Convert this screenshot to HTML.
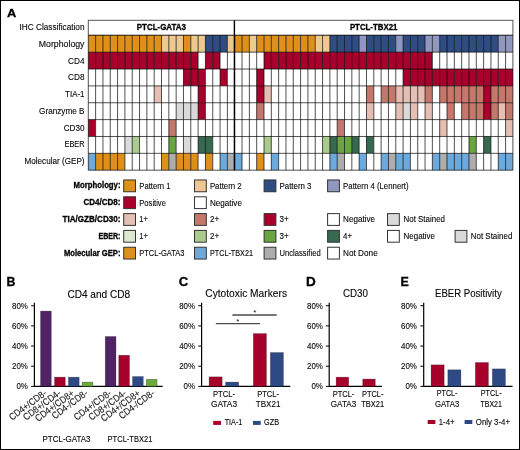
<!DOCTYPE html>
<html><head><meta charset="utf-8"><title>Figure</title>
<style>
html,body{margin:0;padding:0;background:#fff;}
body{width:520px;height:450px;overflow:hidden;}
svg{display:block;will-change:transform;font-family:"Liberation Sans", sans-serif;}
</style></head>
<body>
<svg width="520" height="450" viewBox="0 0 520 450">
<rect x="0" y="0" width="520" height="450" fill="#fff"/>
<text x="6.90" y="17.40" font-size="11.8" font-weight="bold" stroke="#000" stroke-width="0.3" textLength="9.30" lengthAdjust="spacingAndGlyphs" fill="#000">A</text>
<text x="84.50" y="30.20" font-size="9.36" stroke="#1a1a1a" stroke-width="0.12" text-anchor="end" textLength="65.00" lengthAdjust="spacingAndGlyphs">IHC Classification</text>
<text x="84.50" y="46.75" font-size="9.36" stroke="#1a1a1a" stroke-width="0.12" text-anchor="end" textLength="45.70" lengthAdjust="spacingAndGlyphs">Morphology</text>
<text x="84.50" y="63.51" font-size="9.36" stroke="#1a1a1a" stroke-width="0.12" text-anchor="end" textLength="16.40" lengthAdjust="spacingAndGlyphs">CD4</text>
<text x="84.50" y="80.27" font-size="9.36" stroke="#1a1a1a" stroke-width="0.12" text-anchor="end" textLength="16.40" lengthAdjust="spacingAndGlyphs">CD8</text>
<text x="84.50" y="97.03" font-size="9.36" stroke="#1a1a1a" stroke-width="0.12" text-anchor="end" textLength="19.40" lengthAdjust="spacingAndGlyphs">TIA-1</text>
<text x="84.50" y="113.79" font-size="9.36" stroke="#1a1a1a" stroke-width="0.12" text-anchor="end" textLength="45.40" lengthAdjust="spacingAndGlyphs">Granzyme B</text>
<text x="84.50" y="130.55" font-size="9.36" stroke="#1a1a1a" stroke-width="0.12" text-anchor="end" textLength="20.80" lengthAdjust="spacingAndGlyphs">CD30</text>
<text x="84.50" y="147.31" font-size="9.36" stroke="#1a1a1a" stroke-width="0.12" text-anchor="end" textLength="20.00" lengthAdjust="spacingAndGlyphs">EBER</text>
<text x="84.50" y="164.07" font-size="9.36" stroke="#1a1a1a" stroke-width="0.12" text-anchor="end" textLength="60.00" lengthAdjust="spacingAndGlyphs">Molecular (GEP)</text>
<rect x="88.30" y="20.30" width="424.60" height="15.00" fill="#fff" stroke="#555" stroke-width="1"/>
<text x="161.35" y="30.20" font-size="8.6" font-weight="bold" stroke="#000" stroke-width="0.3" text-anchor="middle" textLength="49.20" lengthAdjust="spacingAndGlyphs" fill="#000">PTCL-GATA3</text>
<text x="373.65" y="30.20" font-size="8.6" font-weight="bold" stroke="#000" stroke-width="0.3" text-anchor="middle" textLength="47.50" lengthAdjust="spacingAndGlyphs" fill="#000">PTCL-TBX21</text>
<rect x="88.30" y="35.30" width="7.32" height="16.86" fill="#DF901B"/>
<rect x="95.62" y="35.30" width="7.32" height="16.86" fill="#DF901B"/>
<rect x="102.94" y="35.30" width="7.32" height="16.86" fill="#DF901B"/>
<rect x="110.26" y="35.30" width="7.32" height="16.86" fill="#DF901B"/>
<rect x="117.58" y="35.30" width="7.32" height="16.86" fill="#DF901B"/>
<rect x="124.90" y="35.30" width="7.32" height="16.86" fill="#DF901B"/>
<rect x="132.22" y="35.30" width="7.32" height="16.86" fill="#DF901B"/>
<rect x="139.54" y="35.30" width="7.32" height="16.86" fill="#DF901B"/>
<rect x="146.87" y="35.30" width="7.32" height="16.86" fill="#DF901B"/>
<rect x="154.19" y="35.30" width="7.32" height="16.86" fill="#DF901B"/>
<rect x="161.51" y="35.30" width="7.32" height="16.86" fill="#EDC88F"/>
<rect x="168.83" y="35.30" width="7.32" height="16.86" fill="#EDC88F"/>
<rect x="176.15" y="35.30" width="7.32" height="16.86" fill="#EDC88F"/>
<rect x="183.47" y="35.30" width="7.32" height="16.86" fill="#DF901B"/>
<rect x="190.79" y="35.30" width="7.32" height="16.86" fill="#EDC88F"/>
<rect x="198.11" y="35.30" width="7.32" height="16.86" fill="#EDC88F"/>
<rect x="205.43" y="35.30" width="7.32" height="16.86" fill="#2F4D82"/>
<rect x="212.75" y="35.30" width="7.32" height="16.86" fill="#2F4D82"/>
<rect x="220.07" y="35.30" width="7.32" height="16.86" fill="#2F4D82"/>
<rect x="227.39" y="35.30" width="7.32" height="16.86" fill="#EDC88F"/>
<rect x="234.71" y="35.30" width="7.32" height="16.86" fill="#DF901B"/>
<rect x="242.03" y="35.30" width="7.32" height="16.86" fill="#DF901B"/>
<rect x="249.36" y="35.30" width="7.32" height="16.86" fill="#EDC88F"/>
<rect x="256.68" y="35.30" width="7.32" height="16.86" fill="#DF901B"/>
<rect x="264.00" y="35.30" width="7.32" height="16.86" fill="#DF901B"/>
<rect x="271.32" y="35.30" width="7.32" height="16.86" fill="#DF901B"/>
<rect x="278.64" y="35.30" width="7.32" height="16.86" fill="#DF901B"/>
<rect x="285.96" y="35.30" width="7.32" height="16.86" fill="#DF901B"/>
<rect x="293.28" y="35.30" width="7.32" height="16.86" fill="#DF901B"/>
<rect x="300.60" y="35.30" width="7.32" height="16.86" fill="#DF901B"/>
<rect x="307.92" y="35.30" width="7.32" height="16.86" fill="#DF901B"/>
<rect x="315.24" y="35.30" width="7.32" height="16.86" fill="#EDC88F"/>
<rect x="322.56" y="35.30" width="7.32" height="16.86" fill="#EDC88F"/>
<rect x="329.88" y="35.30" width="7.32" height="16.86" fill="#2F4D82"/>
<rect x="337.20" y="35.30" width="7.32" height="16.86" fill="#2F4D82"/>
<rect x="344.52" y="35.30" width="7.32" height="16.86" fill="#2F4D82"/>
<rect x="351.84" y="35.30" width="7.32" height="16.86" fill="#2F4D82"/>
<rect x="359.17" y="35.30" width="7.32" height="16.86" fill="#9198C0"/>
<rect x="366.49" y="35.30" width="7.32" height="16.86" fill="#2F4D82"/>
<rect x="373.81" y="35.30" width="7.32" height="16.86" fill="#2F4D82"/>
<rect x="381.13" y="35.30" width="7.32" height="16.86" fill="#2F4D82"/>
<rect x="388.45" y="35.30" width="7.32" height="16.86" fill="#2F4D82"/>
<rect x="395.77" y="35.30" width="7.32" height="16.86" fill="#9198C0"/>
<rect x="403.09" y="35.30" width="7.32" height="16.86" fill="#2F4D82"/>
<rect x="410.41" y="35.30" width="7.32" height="16.86" fill="#2F4D82"/>
<rect x="417.73" y="35.30" width="7.32" height="16.86" fill="#2F4D82"/>
<rect x="425.05" y="35.30" width="7.32" height="16.86" fill="#9198C0"/>
<rect x="432.37" y="35.30" width="7.32" height="16.86" fill="#9198C0"/>
<rect x="439.69" y="35.30" width="7.32" height="16.86" fill="#2F4D82"/>
<rect x="447.01" y="35.30" width="7.32" height="16.86" fill="#2F4D82"/>
<rect x="454.33" y="35.30" width="7.32" height="16.86" fill="#2F4D82"/>
<rect x="461.66" y="35.30" width="7.32" height="16.86" fill="#2F4D82"/>
<rect x="468.98" y="35.30" width="7.32" height="16.86" fill="#2F4D82"/>
<rect x="476.30" y="35.30" width="7.32" height="16.86" fill="#2F4D82"/>
<rect x="483.62" y="35.30" width="7.32" height="16.86" fill="#2F4D82"/>
<rect x="490.94" y="35.30" width="7.32" height="16.86" fill="#2F4D82"/>
<rect x="498.26" y="35.30" width="7.32" height="16.86" fill="#9198C0"/>
<rect x="505.58" y="35.30" width="7.32" height="16.86" fill="#9198C0"/>
<rect x="88.30" y="52.16" width="7.32" height="16.86" fill="#A8002C"/>
<rect x="95.62" y="52.16" width="7.32" height="16.86" fill="#A8002C"/>
<rect x="102.94" y="52.16" width="7.32" height="16.86" fill="#A8002C"/>
<rect x="110.26" y="52.16" width="7.32" height="16.86" fill="#A8002C"/>
<rect x="117.58" y="52.16" width="7.32" height="16.86" fill="#A8002C"/>
<rect x="124.90" y="52.16" width="7.32" height="16.86" fill="#A8002C"/>
<rect x="132.22" y="52.16" width="7.32" height="16.86" fill="#A8002C"/>
<rect x="139.54" y="52.16" width="7.32" height="16.86" fill="#A8002C"/>
<rect x="146.87" y="52.16" width="7.32" height="16.86" fill="#A8002C"/>
<rect x="154.19" y="52.16" width="7.32" height="16.86" fill="#A8002C"/>
<rect x="161.51" y="52.16" width="7.32" height="16.86" fill="#A8002C"/>
<rect x="168.83" y="52.16" width="7.32" height="16.86" fill="#A8002C"/>
<rect x="176.15" y="52.16" width="7.32" height="16.86" fill="#A8002C"/>
<rect x="183.47" y="52.16" width="7.32" height="16.86" fill="#A8002C"/>
<rect x="190.79" y="52.16" width="7.32" height="16.86" fill="#A8002C"/>
<rect x="198.11" y="52.16" width="7.32" height="16.86" fill="#FFFFFF"/>
<rect x="205.43" y="52.16" width="7.32" height="16.86" fill="#A8002C"/>
<rect x="212.75" y="52.16" width="7.32" height="16.86" fill="#A8002C"/>
<rect x="220.07" y="52.16" width="7.32" height="16.86" fill="#FFFFFF"/>
<rect x="227.39" y="52.16" width="7.32" height="16.86" fill="#FFFFFF"/>
<rect x="234.71" y="52.16" width="7.32" height="16.86" fill="#FFFFFF"/>
<rect x="242.03" y="52.16" width="7.32" height="16.86" fill="#FFFFFF"/>
<rect x="249.36" y="52.16" width="7.32" height="16.86" fill="#FFFFFF"/>
<rect x="256.68" y="52.16" width="7.32" height="16.86" fill="#FFFFFF"/>
<rect x="264.00" y="52.16" width="7.32" height="16.86" fill="#A8002C"/>
<rect x="271.32" y="52.16" width="7.32" height="16.86" fill="#A8002C"/>
<rect x="278.64" y="52.16" width="7.32" height="16.86" fill="#A8002C"/>
<rect x="285.96" y="52.16" width="7.32" height="16.86" fill="#A8002C"/>
<rect x="293.28" y="52.16" width="7.32" height="16.86" fill="#A8002C"/>
<rect x="300.60" y="52.16" width="7.32" height="16.86" fill="#A8002C"/>
<rect x="307.92" y="52.16" width="7.32" height="16.86" fill="#A8002C"/>
<rect x="315.24" y="52.16" width="7.32" height="16.86" fill="#A8002C"/>
<rect x="322.56" y="52.16" width="7.32" height="16.86" fill="#A8002C"/>
<rect x="329.88" y="52.16" width="7.32" height="16.86" fill="#A8002C"/>
<rect x="337.20" y="52.16" width="7.32" height="16.86" fill="#A8002C"/>
<rect x="344.52" y="52.16" width="7.32" height="16.86" fill="#A8002C"/>
<rect x="351.84" y="52.16" width="7.32" height="16.86" fill="#A8002C"/>
<rect x="359.17" y="52.16" width="7.32" height="16.86" fill="#A8002C"/>
<rect x="366.49" y="52.16" width="7.32" height="16.86" fill="#A8002C"/>
<rect x="373.81" y="52.16" width="7.32" height="16.86" fill="#A8002C"/>
<rect x="381.13" y="52.16" width="7.32" height="16.86" fill="#A8002C"/>
<rect x="388.45" y="52.16" width="7.32" height="16.86" fill="#A8002C"/>
<rect x="395.77" y="52.16" width="7.32" height="16.86" fill="#A8002C"/>
<rect x="403.09" y="52.16" width="7.32" height="16.86" fill="#A8002C"/>
<rect x="410.41" y="52.16" width="7.32" height="16.86" fill="#A8002C"/>
<rect x="417.73" y="52.16" width="7.32" height="16.86" fill="#A8002C"/>
<rect x="425.05" y="52.16" width="7.32" height="16.86" fill="#A8002C"/>
<rect x="432.37" y="52.16" width="7.32" height="16.86" fill="#FFFFFF"/>
<rect x="439.69" y="52.16" width="7.32" height="16.86" fill="#FFFFFF"/>
<rect x="447.01" y="52.16" width="7.32" height="16.86" fill="#FFFFFF"/>
<rect x="454.33" y="52.16" width="7.32" height="16.86" fill="#FFFFFF"/>
<rect x="461.66" y="52.16" width="7.32" height="16.86" fill="#FFFFFF"/>
<rect x="468.98" y="52.16" width="7.32" height="16.86" fill="#FFFFFF"/>
<rect x="476.30" y="52.16" width="7.32" height="16.86" fill="#FFFFFF"/>
<rect x="483.62" y="52.16" width="7.32" height="16.86" fill="#FFFFFF"/>
<rect x="490.94" y="52.16" width="7.32" height="16.86" fill="#FFFFFF"/>
<rect x="498.26" y="52.16" width="7.32" height="16.86" fill="#FFFFFF"/>
<rect x="505.58" y="52.16" width="7.32" height="16.86" fill="#FFFFFF"/>
<rect x="88.30" y="69.02" width="7.32" height="16.86" fill="#FFFFFF"/>
<rect x="95.62" y="69.02" width="7.32" height="16.86" fill="#FFFFFF"/>
<rect x="102.94" y="69.02" width="7.32" height="16.86" fill="#FFFFFF"/>
<rect x="110.26" y="69.02" width="7.32" height="16.86" fill="#FFFFFF"/>
<rect x="117.58" y="69.02" width="7.32" height="16.86" fill="#FFFFFF"/>
<rect x="124.90" y="69.02" width="7.32" height="16.86" fill="#FFFFFF"/>
<rect x="132.22" y="69.02" width="7.32" height="16.86" fill="#FFFFFF"/>
<rect x="139.54" y="69.02" width="7.32" height="16.86" fill="#FFFFFF"/>
<rect x="146.87" y="69.02" width="7.32" height="16.86" fill="#FFFFFF"/>
<rect x="154.19" y="69.02" width="7.32" height="16.86" fill="#FFFFFF"/>
<rect x="161.51" y="69.02" width="7.32" height="16.86" fill="#FFFFFF"/>
<rect x="168.83" y="69.02" width="7.32" height="16.86" fill="#FFFFFF"/>
<rect x="176.15" y="69.02" width="7.32" height="16.86" fill="#FFFFFF"/>
<rect x="183.47" y="69.02" width="7.32" height="16.86" fill="#A8002C"/>
<rect x="190.79" y="69.02" width="7.32" height="16.86" fill="#A8002C"/>
<rect x="198.11" y="69.02" width="7.32" height="16.86" fill="#A8002C"/>
<rect x="205.43" y="69.02" width="7.32" height="16.86" fill="#FFFFFF"/>
<rect x="212.75" y="69.02" width="7.32" height="16.86" fill="#FFFFFF"/>
<rect x="220.07" y="69.02" width="7.32" height="16.86" fill="#A8002C"/>
<rect x="227.39" y="69.02" width="7.32" height="16.86" fill="#FFFFFF"/>
<rect x="234.71" y="69.02" width="7.32" height="16.86" fill="#FFFFFF"/>
<rect x="242.03" y="69.02" width="7.32" height="16.86" fill="#FFFFFF"/>
<rect x="249.36" y="69.02" width="7.32" height="16.86" fill="#FFFFFF"/>
<rect x="256.68" y="69.02" width="7.32" height="16.86" fill="#A8002C"/>
<rect x="264.00" y="69.02" width="7.32" height="16.86" fill="#FFFFFF"/>
<rect x="271.32" y="69.02" width="7.32" height="16.86" fill="#FFFFFF"/>
<rect x="278.64" y="69.02" width="7.32" height="16.86" fill="#FFFFFF"/>
<rect x="285.96" y="69.02" width="7.32" height="16.86" fill="#FFFFFF"/>
<rect x="293.28" y="69.02" width="7.32" height="16.86" fill="#FFFFFF"/>
<rect x="300.60" y="69.02" width="7.32" height="16.86" fill="#FFFFFF"/>
<rect x="307.92" y="69.02" width="7.32" height="16.86" fill="#FFFFFF"/>
<rect x="315.24" y="69.02" width="7.32" height="16.86" fill="#FFFFFF"/>
<rect x="322.56" y="69.02" width="7.32" height="16.86" fill="#FFFFFF"/>
<rect x="329.88" y="69.02" width="7.32" height="16.86" fill="#FFFFFF"/>
<rect x="337.20" y="69.02" width="7.32" height="16.86" fill="#FFFFFF"/>
<rect x="344.52" y="69.02" width="7.32" height="16.86" fill="#FFFFFF"/>
<rect x="351.84" y="69.02" width="7.32" height="16.86" fill="#FFFFFF"/>
<rect x="359.17" y="69.02" width="7.32" height="16.86" fill="#FFFFFF"/>
<rect x="366.49" y="69.02" width="7.32" height="16.86" fill="#FFFFFF"/>
<rect x="373.81" y="69.02" width="7.32" height="16.86" fill="#FFFFFF"/>
<rect x="381.13" y="69.02" width="7.32" height="16.86" fill="#FFFFFF"/>
<rect x="388.45" y="69.02" width="7.32" height="16.86" fill="#FFFFFF"/>
<rect x="395.77" y="69.02" width="7.32" height="16.86" fill="#FFFFFF"/>
<rect x="403.09" y="69.02" width="7.32" height="16.86" fill="#A8002C"/>
<rect x="410.41" y="69.02" width="7.32" height="16.86" fill="#A8002C"/>
<rect x="417.73" y="69.02" width="7.32" height="16.86" fill="#A8002C"/>
<rect x="425.05" y="69.02" width="7.32" height="16.86" fill="#A8002C"/>
<rect x="432.37" y="69.02" width="7.32" height="16.86" fill="#A8002C"/>
<rect x="439.69" y="69.02" width="7.32" height="16.86" fill="#A8002C"/>
<rect x="447.01" y="69.02" width="7.32" height="16.86" fill="#A8002C"/>
<rect x="454.33" y="69.02" width="7.32" height="16.86" fill="#A8002C"/>
<rect x="461.66" y="69.02" width="7.32" height="16.86" fill="#A8002C"/>
<rect x="468.98" y="69.02" width="7.32" height="16.86" fill="#A8002C"/>
<rect x="476.30" y="69.02" width="7.32" height="16.86" fill="#A8002C"/>
<rect x="483.62" y="69.02" width="7.32" height="16.86" fill="#A8002C"/>
<rect x="490.94" y="69.02" width="7.32" height="16.86" fill="#A8002C"/>
<rect x="498.26" y="69.02" width="7.32" height="16.86" fill="#A8002C"/>
<rect x="505.58" y="69.02" width="7.32" height="16.86" fill="#A8002C"/>
<rect x="88.30" y="85.89" width="7.32" height="16.86" fill="#FFFFFF"/>
<rect x="95.62" y="85.89" width="7.32" height="16.86" fill="#FFFFFF"/>
<rect x="102.94" y="85.89" width="7.32" height="16.86" fill="#FFFFFF"/>
<rect x="110.26" y="85.89" width="7.32" height="16.86" fill="#FFFFFF"/>
<rect x="117.58" y="85.89" width="7.32" height="16.86" fill="#FFFFFF"/>
<rect x="124.90" y="85.89" width="7.32" height="16.86" fill="#FFFFFF"/>
<rect x="132.22" y="85.89" width="7.32" height="16.86" fill="#FFFFFF"/>
<rect x="139.54" y="85.89" width="7.32" height="16.86" fill="#FFFFFF"/>
<rect x="146.87" y="85.89" width="7.32" height="16.86" fill="#FFFFFF"/>
<rect x="154.19" y="85.89" width="7.32" height="16.86" fill="#E5BFB3"/>
<rect x="161.51" y="85.89" width="7.32" height="16.86" fill="#FFFFFF"/>
<rect x="168.83" y="85.89" width="7.32" height="16.86" fill="#FFFFFF"/>
<rect x="176.15" y="85.89" width="7.32" height="16.86" fill="#FFFFFF"/>
<rect x="183.47" y="85.89" width="7.32" height="16.86" fill="#FFFFFF"/>
<rect x="190.79" y="85.89" width="7.32" height="16.86" fill="#FFFFFF"/>
<rect x="198.11" y="85.89" width="7.32" height="16.86" fill="#A8002C"/>
<rect x="205.43" y="85.89" width="7.32" height="16.86" fill="#FFFFFF"/>
<rect x="212.75" y="85.89" width="7.32" height="16.86" fill="#FFFFFF"/>
<rect x="220.07" y="85.89" width="7.32" height="16.86" fill="#FFFFFF"/>
<rect x="227.39" y="85.89" width="7.32" height="16.86" fill="#FFFFFF"/>
<rect x="234.71" y="85.89" width="7.32" height="16.86" fill="#FFFFFF"/>
<rect x="242.03" y="85.89" width="7.32" height="16.86" fill="#FFFFFF"/>
<rect x="249.36" y="85.89" width="7.32" height="16.86" fill="#FFFFFF"/>
<rect x="256.68" y="85.89" width="7.32" height="16.86" fill="#A8002C"/>
<rect x="264.00" y="85.89" width="7.32" height="16.86" fill="#E5BFB3"/>
<rect x="271.32" y="85.89" width="7.32" height="16.86" fill="#FFFFFF"/>
<rect x="278.64" y="85.89" width="7.32" height="16.86" fill="#FFFFFF"/>
<rect x="285.96" y="85.89" width="7.32" height="16.86" fill="#FFFFFF"/>
<rect x="293.28" y="85.89" width="7.32" height="16.86" fill="#FFFFFF"/>
<rect x="300.60" y="85.89" width="7.32" height="16.86" fill="#FFFFFF"/>
<rect x="307.92" y="85.89" width="7.32" height="16.86" fill="#FFFFFF"/>
<rect x="315.24" y="85.89" width="7.32" height="16.86" fill="#FFFFFF"/>
<rect x="322.56" y="85.89" width="7.32" height="16.86" fill="#FFFFFF"/>
<rect x="329.88" y="85.89" width="7.32" height="16.86" fill="#FFFFFF"/>
<rect x="337.20" y="85.89" width="7.32" height="16.86" fill="#FFFFFF"/>
<rect x="344.52" y="85.89" width="7.32" height="16.86" fill="#FFFFFF"/>
<rect x="351.84" y="85.89" width="7.32" height="16.86" fill="#FFFFFF"/>
<rect x="359.17" y="85.89" width="7.32" height="16.86" fill="#FFFFFF"/>
<rect x="366.49" y="85.89" width="7.32" height="16.86" fill="#C6776B"/>
<rect x="373.81" y="85.89" width="7.32" height="16.86" fill="#FFFFFF"/>
<rect x="381.13" y="85.89" width="7.32" height="16.86" fill="#C6776B"/>
<rect x="388.45" y="85.89" width="7.32" height="16.86" fill="#C6776B"/>
<rect x="395.77" y="85.89" width="7.32" height="16.86" fill="#E5BFB3"/>
<rect x="403.09" y="85.89" width="7.32" height="16.86" fill="#E5BFB3"/>
<rect x="410.41" y="85.89" width="7.32" height="16.86" fill="#E5BFB3"/>
<rect x="417.73" y="85.89" width="7.32" height="16.86" fill="#E5BFB3"/>
<rect x="425.05" y="85.89" width="7.32" height="16.86" fill="#C6776B"/>
<rect x="432.37" y="85.89" width="7.32" height="16.86" fill="#FFFFFF"/>
<rect x="439.69" y="85.89" width="7.32" height="16.86" fill="#C6776B"/>
<rect x="447.01" y="85.89" width="7.32" height="16.86" fill="#C6776B"/>
<rect x="454.33" y="85.89" width="7.32" height="16.86" fill="#C6776B"/>
<rect x="461.66" y="85.89" width="7.32" height="16.86" fill="#C6776B"/>
<rect x="468.98" y="85.89" width="7.32" height="16.86" fill="#C6776B"/>
<rect x="476.30" y="85.89" width="7.32" height="16.86" fill="#C6776B"/>
<rect x="483.62" y="85.89" width="7.32" height="16.86" fill="#A8002C"/>
<rect x="490.94" y="85.89" width="7.32" height="16.86" fill="#C6776B"/>
<rect x="498.26" y="85.89" width="7.32" height="16.86" fill="#C6776B"/>
<rect x="505.58" y="85.89" width="7.32" height="16.86" fill="#C6776B"/>
<rect x="88.30" y="102.75" width="7.32" height="16.86" fill="#FFFFFF"/>
<rect x="95.62" y="102.75" width="7.32" height="16.86" fill="#FFFFFF"/>
<rect x="102.94" y="102.75" width="7.32" height="16.86" fill="#FFFFFF"/>
<rect x="110.26" y="102.75" width="7.32" height="16.86" fill="#FFFFFF"/>
<rect x="117.58" y="102.75" width="7.32" height="16.86" fill="#FFFFFF"/>
<rect x="124.90" y="102.75" width="7.32" height="16.86" fill="#FFFFFF"/>
<rect x="132.22" y="102.75" width="7.32" height="16.86" fill="#FFFFFF"/>
<rect x="139.54" y="102.75" width="7.32" height="16.86" fill="#FFFFFF"/>
<rect x="146.87" y="102.75" width="7.32" height="16.86" fill="#FFFFFF"/>
<rect x="154.19" y="102.75" width="7.32" height="16.86" fill="#FFFFFF"/>
<rect x="161.51" y="102.75" width="7.32" height="16.86" fill="#FFFFFF"/>
<rect x="168.83" y="102.75" width="7.32" height="16.86" fill="#FFFFFF"/>
<rect x="176.15" y="102.75" width="7.32" height="16.86" fill="#DADADA"/>
<rect x="183.47" y="102.75" width="7.32" height="16.86" fill="#DADADA"/>
<rect x="190.79" y="102.75" width="7.32" height="16.86" fill="#DADADA"/>
<rect x="198.11" y="102.75" width="7.32" height="16.86" fill="#A8002C"/>
<rect x="205.43" y="102.75" width="7.32" height="16.86" fill="#FFFFFF"/>
<rect x="212.75" y="102.75" width="7.32" height="16.86" fill="#FFFFFF"/>
<rect x="220.07" y="102.75" width="7.32" height="16.86" fill="#FFFFFF"/>
<rect x="227.39" y="102.75" width="7.32" height="16.86" fill="#FFFFFF"/>
<rect x="234.71" y="102.75" width="7.32" height="16.86" fill="#FFFFFF"/>
<rect x="242.03" y="102.75" width="7.32" height="16.86" fill="#FFFFFF"/>
<rect x="249.36" y="102.75" width="7.32" height="16.86" fill="#FFFFFF"/>
<rect x="256.68" y="102.75" width="7.32" height="16.86" fill="#C6776B"/>
<rect x="264.00" y="102.75" width="7.32" height="16.86" fill="#FFFFFF"/>
<rect x="271.32" y="102.75" width="7.32" height="16.86" fill="#FFFFFF"/>
<rect x="278.64" y="102.75" width="7.32" height="16.86" fill="#FFFFFF"/>
<rect x="285.96" y="102.75" width="7.32" height="16.86" fill="#FFFFFF"/>
<rect x="293.28" y="102.75" width="7.32" height="16.86" fill="#FFFFFF"/>
<rect x="300.60" y="102.75" width="7.32" height="16.86" fill="#FFFFFF"/>
<rect x="307.92" y="102.75" width="7.32" height="16.86" fill="#FFFFFF"/>
<rect x="315.24" y="102.75" width="7.32" height="16.86" fill="#FFFFFF"/>
<rect x="322.56" y="102.75" width="7.32" height="16.86" fill="#FFFFFF"/>
<rect x="329.88" y="102.75" width="7.32" height="16.86" fill="#FFFFFF"/>
<rect x="337.20" y="102.75" width="7.32" height="16.86" fill="#FFFFFF"/>
<rect x="344.52" y="102.75" width="7.32" height="16.86" fill="#FFFFFF"/>
<rect x="351.84" y="102.75" width="7.32" height="16.86" fill="#FFFFFF"/>
<rect x="359.17" y="102.75" width="7.32" height="16.86" fill="#FFFFFF"/>
<rect x="366.49" y="102.75" width="7.32" height="16.86" fill="#E5BFB3"/>
<rect x="373.81" y="102.75" width="7.32" height="16.86" fill="#FFFFFF"/>
<rect x="381.13" y="102.75" width="7.32" height="16.86" fill="#FFFFFF"/>
<rect x="388.45" y="102.75" width="7.32" height="16.86" fill="#FFFFFF"/>
<rect x="395.77" y="102.75" width="7.32" height="16.86" fill="#E5BFB3"/>
<rect x="403.09" y="102.75" width="7.32" height="16.86" fill="#DADADA"/>
<rect x="410.41" y="102.75" width="7.32" height="16.86" fill="#E5BFB3"/>
<rect x="417.73" y="102.75" width="7.32" height="16.86" fill="#FFFFFF"/>
<rect x="425.05" y="102.75" width="7.32" height="16.86" fill="#E5BFB3"/>
<rect x="432.37" y="102.75" width="7.32" height="16.86" fill="#FFFFFF"/>
<rect x="439.69" y="102.75" width="7.32" height="16.86" fill="#FFFFFF"/>
<rect x="447.01" y="102.75" width="7.32" height="16.86" fill="#C6776B"/>
<rect x="454.33" y="102.75" width="7.32" height="16.86" fill="#FFFFFF"/>
<rect x="461.66" y="102.75" width="7.32" height="16.86" fill="#C6776B"/>
<rect x="468.98" y="102.75" width="7.32" height="16.86" fill="#C6776B"/>
<rect x="476.30" y="102.75" width="7.32" height="16.86" fill="#C6776B"/>
<rect x="483.62" y="102.75" width="7.32" height="16.86" fill="#A8002C"/>
<rect x="490.94" y="102.75" width="7.32" height="16.86" fill="#C6776B"/>
<rect x="498.26" y="102.75" width="7.32" height="16.86" fill="#E5BFB3"/>
<rect x="505.58" y="102.75" width="7.32" height="16.86" fill="#C6776B"/>
<rect x="88.30" y="119.61" width="7.32" height="16.86" fill="#A8002C"/>
<rect x="95.62" y="119.61" width="7.32" height="16.86" fill="#FFFFFF"/>
<rect x="102.94" y="119.61" width="7.32" height="16.86" fill="#FFFFFF"/>
<rect x="110.26" y="119.61" width="7.32" height="16.86" fill="#FFFFFF"/>
<rect x="117.58" y="119.61" width="7.32" height="16.86" fill="#FFFFFF"/>
<rect x="124.90" y="119.61" width="7.32" height="16.86" fill="#FFFFFF"/>
<rect x="132.22" y="119.61" width="7.32" height="16.86" fill="#FFFFFF"/>
<rect x="139.54" y="119.61" width="7.32" height="16.86" fill="#FFFFFF"/>
<rect x="146.87" y="119.61" width="7.32" height="16.86" fill="#FFFFFF"/>
<rect x="154.19" y="119.61" width="7.32" height="16.86" fill="#FFFFFF"/>
<rect x="161.51" y="119.61" width="7.32" height="16.86" fill="#FFFFFF"/>
<rect x="168.83" y="119.61" width="7.32" height="16.86" fill="#C6776B"/>
<rect x="176.15" y="119.61" width="7.32" height="16.86" fill="#FFFFFF"/>
<rect x="183.47" y="119.61" width="7.32" height="16.86" fill="#FFFFFF"/>
<rect x="190.79" y="119.61" width="7.32" height="16.86" fill="#FFFFFF"/>
<rect x="198.11" y="119.61" width="7.32" height="16.86" fill="#FFFFFF"/>
<rect x="205.43" y="119.61" width="7.32" height="16.86" fill="#FFFFFF"/>
<rect x="212.75" y="119.61" width="7.32" height="16.86" fill="#FFFFFF"/>
<rect x="220.07" y="119.61" width="7.32" height="16.86" fill="#FFFFFF"/>
<rect x="227.39" y="119.61" width="7.32" height="16.86" fill="#FFFFFF"/>
<rect x="234.71" y="119.61" width="7.32" height="16.86" fill="#FFFFFF"/>
<rect x="242.03" y="119.61" width="7.32" height="16.86" fill="#FFFFFF"/>
<rect x="249.36" y="119.61" width="7.32" height="16.86" fill="#FFFFFF"/>
<rect x="256.68" y="119.61" width="7.32" height="16.86" fill="#FFFFFF"/>
<rect x="264.00" y="119.61" width="7.32" height="16.86" fill="#FFFFFF"/>
<rect x="271.32" y="119.61" width="7.32" height="16.86" fill="#FFFFFF"/>
<rect x="278.64" y="119.61" width="7.32" height="16.86" fill="#FFFFFF"/>
<rect x="285.96" y="119.61" width="7.32" height="16.86" fill="#FFFFFF"/>
<rect x="293.28" y="119.61" width="7.32" height="16.86" fill="#FFFFFF"/>
<rect x="300.60" y="119.61" width="7.32" height="16.86" fill="#FFFFFF"/>
<rect x="307.92" y="119.61" width="7.32" height="16.86" fill="#FFFFFF"/>
<rect x="315.24" y="119.61" width="7.32" height="16.86" fill="#FFFFFF"/>
<rect x="322.56" y="119.61" width="7.32" height="16.86" fill="#FFFFFF"/>
<rect x="329.88" y="119.61" width="7.32" height="16.86" fill="#FFFFFF"/>
<rect x="337.20" y="119.61" width="7.32" height="16.86" fill="#C6776B"/>
<rect x="344.52" y="119.61" width="7.32" height="16.86" fill="#FFFFFF"/>
<rect x="351.84" y="119.61" width="7.32" height="16.86" fill="#FFFFFF"/>
<rect x="359.17" y="119.61" width="7.32" height="16.86" fill="#FFFFFF"/>
<rect x="366.49" y="119.61" width="7.32" height="16.86" fill="#FFFFFF"/>
<rect x="373.81" y="119.61" width="7.32" height="16.86" fill="#FFFFFF"/>
<rect x="381.13" y="119.61" width="7.32" height="16.86" fill="#FFFFFF"/>
<rect x="388.45" y="119.61" width="7.32" height="16.86" fill="#FFFFFF"/>
<rect x="395.77" y="119.61" width="7.32" height="16.86" fill="#FFFFFF"/>
<rect x="403.09" y="119.61" width="7.32" height="16.86" fill="#FFFFFF"/>
<rect x="410.41" y="119.61" width="7.32" height="16.86" fill="#FFFFFF"/>
<rect x="417.73" y="119.61" width="7.32" height="16.86" fill="#FFFFFF"/>
<rect x="425.05" y="119.61" width="7.32" height="16.86" fill="#FFFFFF"/>
<rect x="432.37" y="119.61" width="7.32" height="16.86" fill="#FFFFFF"/>
<rect x="439.69" y="119.61" width="7.32" height="16.86" fill="#E5BFB3"/>
<rect x="447.01" y="119.61" width="7.32" height="16.86" fill="#FFFFFF"/>
<rect x="454.33" y="119.61" width="7.32" height="16.86" fill="#FFFFFF"/>
<rect x="461.66" y="119.61" width="7.32" height="16.86" fill="#FFFFFF"/>
<rect x="468.98" y="119.61" width="7.32" height="16.86" fill="#FFFFFF"/>
<rect x="476.30" y="119.61" width="7.32" height="16.86" fill="#FFFFFF"/>
<rect x="483.62" y="119.61" width="7.32" height="16.86" fill="#FFFFFF"/>
<rect x="490.94" y="119.61" width="7.32" height="16.86" fill="#FFFFFF"/>
<rect x="498.26" y="119.61" width="7.32" height="16.86" fill="#FFFFFF"/>
<rect x="505.58" y="119.61" width="7.32" height="16.86" fill="#E5BFB3"/>
<rect x="88.30" y="136.47" width="7.32" height="16.86" fill="#FFFFFF"/>
<rect x="95.62" y="136.47" width="7.32" height="16.86" fill="#FFFFFF"/>
<rect x="102.94" y="136.47" width="7.32" height="16.86" fill="#FFFFFF"/>
<rect x="110.26" y="136.47" width="7.32" height="16.86" fill="#FFFFFF"/>
<rect x="117.58" y="136.47" width="7.32" height="16.86" fill="#FFFFFF"/>
<rect x="124.90" y="136.47" width="7.32" height="16.86" fill="#DADADA"/>
<rect x="132.22" y="136.47" width="7.32" height="16.86" fill="#ABCB8D"/>
<rect x="139.54" y="136.47" width="7.32" height="16.86" fill="#FFFFFF"/>
<rect x="146.87" y="136.47" width="7.32" height="16.86" fill="#FFFFFF"/>
<rect x="154.19" y="136.47" width="7.32" height="16.86" fill="#FFFFFF"/>
<rect x="161.51" y="136.47" width="7.32" height="16.86" fill="#FFFFFF"/>
<rect x="168.83" y="136.47" width="7.32" height="16.86" fill="#69A541"/>
<rect x="176.15" y="136.47" width="7.32" height="16.86" fill="#FFFFFF"/>
<rect x="183.47" y="136.47" width="7.32" height="16.86" fill="#DADADA"/>
<rect x="190.79" y="136.47" width="7.32" height="16.86" fill="#FFFFFF"/>
<rect x="198.11" y="136.47" width="7.32" height="16.86" fill="#376950"/>
<rect x="205.43" y="136.47" width="7.32" height="16.86" fill="#376950"/>
<rect x="212.75" y="136.47" width="7.32" height="16.86" fill="#FFFFFF"/>
<rect x="220.07" y="136.47" width="7.32" height="16.86" fill="#FFFFFF"/>
<rect x="227.39" y="136.47" width="7.32" height="16.86" fill="#FFFFFF"/>
<rect x="234.71" y="136.47" width="7.32" height="16.86" fill="#FFFFFF"/>
<rect x="242.03" y="136.47" width="7.32" height="16.86" fill="#FFFFFF"/>
<rect x="249.36" y="136.47" width="7.32" height="16.86" fill="#FFFFFF"/>
<rect x="256.68" y="136.47" width="7.32" height="16.86" fill="#FFFFFF"/>
<rect x="264.00" y="136.47" width="7.32" height="16.86" fill="#ABCB8D"/>
<rect x="271.32" y="136.47" width="7.32" height="16.86" fill="#FFFFFF"/>
<rect x="278.64" y="136.47" width="7.32" height="16.86" fill="#FFFFFF"/>
<rect x="285.96" y="136.47" width="7.32" height="16.86" fill="#FFFFFF"/>
<rect x="293.28" y="136.47" width="7.32" height="16.86" fill="#FFFFFF"/>
<rect x="300.60" y="136.47" width="7.32" height="16.86" fill="#FFFFFF"/>
<rect x="307.92" y="136.47" width="7.32" height="16.86" fill="#FFFFFF"/>
<rect x="315.24" y="136.47" width="7.32" height="16.86" fill="#FFFFFF"/>
<rect x="322.56" y="136.47" width="7.32" height="16.86" fill="#ABCB8D"/>
<rect x="329.88" y="136.47" width="7.32" height="16.86" fill="#376950"/>
<rect x="337.20" y="136.47" width="7.32" height="16.86" fill="#69A541"/>
<rect x="344.52" y="136.47" width="7.32" height="16.86" fill="#69A541"/>
<rect x="351.84" y="136.47" width="7.32" height="16.86" fill="#376950"/>
<rect x="359.17" y="136.47" width="7.32" height="16.86" fill="#FFFFFF"/>
<rect x="366.49" y="136.47" width="7.32" height="16.86" fill="#376950"/>
<rect x="373.81" y="136.47" width="7.32" height="16.86" fill="#FFFFFF"/>
<rect x="381.13" y="136.47" width="7.32" height="16.86" fill="#FFFFFF"/>
<rect x="388.45" y="136.47" width="7.32" height="16.86" fill="#FFFFFF"/>
<rect x="395.77" y="136.47" width="7.32" height="16.86" fill="#FFFFFF"/>
<rect x="403.09" y="136.47" width="7.32" height="16.86" fill="#FFFFFF"/>
<rect x="410.41" y="136.47" width="7.32" height="16.86" fill="#FFFFFF"/>
<rect x="417.73" y="136.47" width="7.32" height="16.86" fill="#FFFFFF"/>
<rect x="425.05" y="136.47" width="7.32" height="16.86" fill="#FFFFFF"/>
<rect x="432.37" y="136.47" width="7.32" height="16.86" fill="#FFFFFF"/>
<rect x="439.69" y="136.47" width="7.32" height="16.86" fill="#FFFFFF"/>
<rect x="447.01" y="136.47" width="7.32" height="16.86" fill="#FFFFFF"/>
<rect x="454.33" y="136.47" width="7.32" height="16.86" fill="#FFFFFF"/>
<rect x="461.66" y="136.47" width="7.32" height="16.86" fill="#FFFFFF"/>
<rect x="468.98" y="136.47" width="7.32" height="16.86" fill="#69A541"/>
<rect x="476.30" y="136.47" width="7.32" height="16.86" fill="#FFFFFF"/>
<rect x="483.62" y="136.47" width="7.32" height="16.86" fill="#376950"/>
<rect x="490.94" y="136.47" width="7.32" height="16.86" fill="#FFFFFF"/>
<rect x="498.26" y="136.47" width="7.32" height="16.86" fill="#FFFFFF"/>
<rect x="505.58" y="136.47" width="7.32" height="16.86" fill="#FFFFFF"/>
<rect x="88.30" y="153.34" width="7.32" height="16.86" fill="#6CAADE"/>
<rect x="95.62" y="153.34" width="7.32" height="16.86" fill="#DF901B"/>
<rect x="102.94" y="153.34" width="7.32" height="16.86" fill="#DF901B"/>
<rect x="110.26" y="153.34" width="7.32" height="16.86" fill="#DF901B"/>
<rect x="117.58" y="153.34" width="7.32" height="16.86" fill="#DF901B"/>
<rect x="124.90" y="153.34" width="7.32" height="16.86" fill="#FFFFFF"/>
<rect x="132.22" y="153.34" width="7.32" height="16.86" fill="#FFFFFF"/>
<rect x="139.54" y="153.34" width="7.32" height="16.86" fill="#FFFFFF"/>
<rect x="146.87" y="153.34" width="7.32" height="16.86" fill="#FFFFFF"/>
<rect x="154.19" y="153.34" width="7.32" height="16.86" fill="#FFFFFF"/>
<rect x="161.51" y="153.34" width="7.32" height="16.86" fill="#DF901B"/>
<rect x="168.83" y="153.34" width="7.32" height="16.86" fill="#ADADAD"/>
<rect x="176.15" y="153.34" width="7.32" height="16.86" fill="#DF901B"/>
<rect x="183.47" y="153.34" width="7.32" height="16.86" fill="#DF901B"/>
<rect x="190.79" y="153.34" width="7.32" height="16.86" fill="#DF901B"/>
<rect x="198.11" y="153.34" width="7.32" height="16.86" fill="#FFFFFF"/>
<rect x="205.43" y="153.34" width="7.32" height="16.86" fill="#DF901B"/>
<rect x="212.75" y="153.34" width="7.32" height="16.86" fill="#FFFFFF"/>
<rect x="220.07" y="153.34" width="7.32" height="16.86" fill="#6CAADE"/>
<rect x="227.39" y="153.34" width="7.32" height="16.86" fill="#ADADAD"/>
<rect x="234.71" y="153.34" width="7.32" height="16.86" fill="#6CAADE"/>
<rect x="242.03" y="153.34" width="7.32" height="16.86" fill="#FFFFFF"/>
<rect x="249.36" y="153.34" width="7.32" height="16.86" fill="#FFFFFF"/>
<rect x="256.68" y="153.34" width="7.32" height="16.86" fill="#DF901B"/>
<rect x="264.00" y="153.34" width="7.32" height="16.86" fill="#FFFFFF"/>
<rect x="271.32" y="153.34" width="7.32" height="16.86" fill="#6CAADE"/>
<rect x="278.64" y="153.34" width="7.32" height="16.86" fill="#FFFFFF"/>
<rect x="285.96" y="153.34" width="7.32" height="16.86" fill="#FFFFFF"/>
<rect x="293.28" y="153.34" width="7.32" height="16.86" fill="#FFFFFF"/>
<rect x="300.60" y="153.34" width="7.32" height="16.86" fill="#FFFFFF"/>
<rect x="307.92" y="153.34" width="7.32" height="16.86" fill="#FFFFFF"/>
<rect x="315.24" y="153.34" width="7.32" height="16.86" fill="#FFFFFF"/>
<rect x="322.56" y="153.34" width="7.32" height="16.86" fill="#FFFFFF"/>
<rect x="329.88" y="153.34" width="7.32" height="16.86" fill="#6CAADE"/>
<rect x="337.20" y="153.34" width="7.32" height="16.86" fill="#ADADAD"/>
<rect x="344.52" y="153.34" width="7.32" height="16.86" fill="#FFFFFF"/>
<rect x="351.84" y="153.34" width="7.32" height="16.86" fill="#FFFFFF"/>
<rect x="359.17" y="153.34" width="7.32" height="16.86" fill="#6CAADE"/>
<rect x="366.49" y="153.34" width="7.32" height="16.86" fill="#FFFFFF"/>
<rect x="373.81" y="153.34" width="7.32" height="16.86" fill="#FFFFFF"/>
<rect x="381.13" y="153.34" width="7.32" height="16.86" fill="#6CAADE"/>
<rect x="388.45" y="153.34" width="7.32" height="16.86" fill="#ADADAD"/>
<rect x="395.77" y="153.34" width="7.32" height="16.86" fill="#6CAADE"/>
<rect x="403.09" y="153.34" width="7.32" height="16.86" fill="#6CAADE"/>
<rect x="410.41" y="153.34" width="7.32" height="16.86" fill="#FFFFFF"/>
<rect x="417.73" y="153.34" width="7.32" height="16.86" fill="#FFFFFF"/>
<rect x="425.05" y="153.34" width="7.32" height="16.86" fill="#FFFFFF"/>
<rect x="432.37" y="153.34" width="7.32" height="16.86" fill="#6CAADE"/>
<rect x="439.69" y="153.34" width="7.32" height="16.86" fill="#ADADAD"/>
<rect x="447.01" y="153.34" width="7.32" height="16.86" fill="#6CAADE"/>
<rect x="454.33" y="153.34" width="7.32" height="16.86" fill="#6CAADE"/>
<rect x="461.66" y="153.34" width="7.32" height="16.86" fill="#6CAADE"/>
<rect x="468.98" y="153.34" width="7.32" height="16.86" fill="#ADADAD"/>
<rect x="476.30" y="153.34" width="7.32" height="16.86" fill="#FFFFFF"/>
<rect x="483.62" y="153.34" width="7.32" height="16.86" fill="#FFFFFF"/>
<rect x="490.94" y="153.34" width="7.32" height="16.86" fill="#FFFFFF"/>
<rect x="498.26" y="153.34" width="7.32" height="16.86" fill="#6CAADE"/>
<rect x="505.58" y="153.34" width="7.32" height="16.86" fill="#6CAADE"/>
<line x1="88.30" y1="35.30" x2="88.30" y2="170.20" stroke="#000" stroke-width="0.9" stroke-opacity="0.76"/>
<line x1="95.62" y1="35.30" x2="95.62" y2="170.20" stroke="#000" stroke-width="0.9" stroke-opacity="0.76"/>
<line x1="102.94" y1="35.30" x2="102.94" y2="170.20" stroke="#000" stroke-width="0.9" stroke-opacity="0.76"/>
<line x1="110.26" y1="35.30" x2="110.26" y2="170.20" stroke="#000" stroke-width="0.9" stroke-opacity="0.76"/>
<line x1="117.58" y1="35.30" x2="117.58" y2="170.20" stroke="#000" stroke-width="0.9" stroke-opacity="0.76"/>
<line x1="124.90" y1="35.30" x2="124.90" y2="170.20" stroke="#000" stroke-width="0.9" stroke-opacity="0.76"/>
<line x1="132.22" y1="35.30" x2="132.22" y2="170.20" stroke="#000" stroke-width="0.9" stroke-opacity="0.76"/>
<line x1="139.54" y1="35.30" x2="139.54" y2="170.20" stroke="#000" stroke-width="0.9" stroke-opacity="0.76"/>
<line x1="146.87" y1="35.30" x2="146.87" y2="170.20" stroke="#000" stroke-width="0.9" stroke-opacity="0.76"/>
<line x1="154.19" y1="35.30" x2="154.19" y2="170.20" stroke="#000" stroke-width="0.9" stroke-opacity="0.76"/>
<line x1="161.51" y1="35.30" x2="161.51" y2="170.20" stroke="#000" stroke-width="0.9" stroke-opacity="0.76"/>
<line x1="168.83" y1="35.30" x2="168.83" y2="170.20" stroke="#000" stroke-width="0.9" stroke-opacity="0.76"/>
<line x1="176.15" y1="35.30" x2="176.15" y2="170.20" stroke="#000" stroke-width="0.9" stroke-opacity="0.76"/>
<line x1="183.47" y1="35.30" x2="183.47" y2="170.20" stroke="#000" stroke-width="0.9" stroke-opacity="0.76"/>
<line x1="190.79" y1="35.30" x2="190.79" y2="170.20" stroke="#000" stroke-width="0.9" stroke-opacity="0.76"/>
<line x1="198.11" y1="35.30" x2="198.11" y2="170.20" stroke="#000" stroke-width="0.9" stroke-opacity="0.76"/>
<line x1="205.43" y1="35.30" x2="205.43" y2="170.20" stroke="#000" stroke-width="0.9" stroke-opacity="0.76"/>
<line x1="212.75" y1="35.30" x2="212.75" y2="170.20" stroke="#000" stroke-width="0.9" stroke-opacity="0.76"/>
<line x1="220.07" y1="35.30" x2="220.07" y2="170.20" stroke="#000" stroke-width="0.9" stroke-opacity="0.76"/>
<line x1="227.39" y1="35.30" x2="227.39" y2="170.20" stroke="#000" stroke-width="0.9" stroke-opacity="0.76"/>
<line x1="234.71" y1="35.30" x2="234.71" y2="170.20" stroke="#000" stroke-width="0.9" stroke-opacity="0.76"/>
<line x1="242.03" y1="35.30" x2="242.03" y2="170.20" stroke="#000" stroke-width="0.9" stroke-opacity="0.76"/>
<line x1="249.36" y1="35.30" x2="249.36" y2="170.20" stroke="#000" stroke-width="0.9" stroke-opacity="0.76"/>
<line x1="256.68" y1="35.30" x2="256.68" y2="170.20" stroke="#000" stroke-width="0.9" stroke-opacity="0.76"/>
<line x1="264.00" y1="35.30" x2="264.00" y2="170.20" stroke="#000" stroke-width="0.9" stroke-opacity="0.76"/>
<line x1="271.32" y1="35.30" x2="271.32" y2="170.20" stroke="#000" stroke-width="0.9" stroke-opacity="0.76"/>
<line x1="278.64" y1="35.30" x2="278.64" y2="170.20" stroke="#000" stroke-width="0.9" stroke-opacity="0.76"/>
<line x1="285.96" y1="35.30" x2="285.96" y2="170.20" stroke="#000" stroke-width="0.9" stroke-opacity="0.76"/>
<line x1="293.28" y1="35.30" x2="293.28" y2="170.20" stroke="#000" stroke-width="0.9" stroke-opacity="0.76"/>
<line x1="300.60" y1="35.30" x2="300.60" y2="170.20" stroke="#000" stroke-width="0.9" stroke-opacity="0.76"/>
<line x1="307.92" y1="35.30" x2="307.92" y2="170.20" stroke="#000" stroke-width="0.9" stroke-opacity="0.76"/>
<line x1="315.24" y1="35.30" x2="315.24" y2="170.20" stroke="#000" stroke-width="0.9" stroke-opacity="0.76"/>
<line x1="322.56" y1="35.30" x2="322.56" y2="170.20" stroke="#000" stroke-width="0.9" stroke-opacity="0.76"/>
<line x1="329.88" y1="35.30" x2="329.88" y2="170.20" stroke="#000" stroke-width="0.9" stroke-opacity="0.76"/>
<line x1="337.20" y1="35.30" x2="337.20" y2="170.20" stroke="#000" stroke-width="0.9" stroke-opacity="0.76"/>
<line x1="344.52" y1="35.30" x2="344.52" y2="170.20" stroke="#000" stroke-width="0.9" stroke-opacity="0.76"/>
<line x1="351.84" y1="35.30" x2="351.84" y2="170.20" stroke="#000" stroke-width="0.9" stroke-opacity="0.76"/>
<line x1="359.17" y1="35.30" x2="359.17" y2="170.20" stroke="#000" stroke-width="0.9" stroke-opacity="0.76"/>
<line x1="366.49" y1="35.30" x2="366.49" y2="170.20" stroke="#000" stroke-width="0.9" stroke-opacity="0.76"/>
<line x1="373.81" y1="35.30" x2="373.81" y2="170.20" stroke="#000" stroke-width="0.9" stroke-opacity="0.76"/>
<line x1="381.13" y1="35.30" x2="381.13" y2="170.20" stroke="#000" stroke-width="0.9" stroke-opacity="0.76"/>
<line x1="388.45" y1="35.30" x2="388.45" y2="170.20" stroke="#000" stroke-width="0.9" stroke-opacity="0.76"/>
<line x1="395.77" y1="35.30" x2="395.77" y2="170.20" stroke="#000" stroke-width="0.9" stroke-opacity="0.76"/>
<line x1="403.09" y1="35.30" x2="403.09" y2="170.20" stroke="#000" stroke-width="0.9" stroke-opacity="0.76"/>
<line x1="410.41" y1="35.30" x2="410.41" y2="170.20" stroke="#000" stroke-width="0.9" stroke-opacity="0.76"/>
<line x1="417.73" y1="35.30" x2="417.73" y2="170.20" stroke="#000" stroke-width="0.9" stroke-opacity="0.76"/>
<line x1="425.05" y1="35.30" x2="425.05" y2="170.20" stroke="#000" stroke-width="0.9" stroke-opacity="0.76"/>
<line x1="432.37" y1="35.30" x2="432.37" y2="170.20" stroke="#000" stroke-width="0.9" stroke-opacity="0.76"/>
<line x1="439.69" y1="35.30" x2="439.69" y2="170.20" stroke="#000" stroke-width="0.9" stroke-opacity="0.76"/>
<line x1="447.01" y1="35.30" x2="447.01" y2="170.20" stroke="#000" stroke-width="0.9" stroke-opacity="0.76"/>
<line x1="454.33" y1="35.30" x2="454.33" y2="170.20" stroke="#000" stroke-width="0.9" stroke-opacity="0.76"/>
<line x1="461.66" y1="35.30" x2="461.66" y2="170.20" stroke="#000" stroke-width="0.9" stroke-opacity="0.76"/>
<line x1="468.98" y1="35.30" x2="468.98" y2="170.20" stroke="#000" stroke-width="0.9" stroke-opacity="0.76"/>
<line x1="476.30" y1="35.30" x2="476.30" y2="170.20" stroke="#000" stroke-width="0.9" stroke-opacity="0.76"/>
<line x1="483.62" y1="35.30" x2="483.62" y2="170.20" stroke="#000" stroke-width="0.9" stroke-opacity="0.76"/>
<line x1="490.94" y1="35.30" x2="490.94" y2="170.20" stroke="#000" stroke-width="0.9" stroke-opacity="0.76"/>
<line x1="498.26" y1="35.30" x2="498.26" y2="170.20" stroke="#000" stroke-width="0.9" stroke-opacity="0.76"/>
<line x1="505.58" y1="35.30" x2="505.58" y2="170.20" stroke="#000" stroke-width="0.9" stroke-opacity="0.76"/>
<line x1="512.90" y1="35.30" x2="512.90" y2="170.20" stroke="#000" stroke-width="0.9" stroke-opacity="0.76"/>
<line x1="88.30" y1="35.30" x2="512.90" y2="35.30" stroke="#000" stroke-width="0.9" stroke-opacity="0.76"/>
<line x1="88.30" y1="52.16" x2="512.90" y2="52.16" stroke="#000" stroke-width="0.9" stroke-opacity="0.76"/>
<line x1="88.30" y1="69.02" x2="512.90" y2="69.02" stroke="#000" stroke-width="0.9" stroke-opacity="0.76"/>
<line x1="88.30" y1="85.89" x2="512.90" y2="85.89" stroke="#000" stroke-width="0.9" stroke-opacity="0.76"/>
<line x1="88.30" y1="102.75" x2="512.90" y2="102.75" stroke="#000" stroke-width="0.9" stroke-opacity="0.76"/>
<line x1="88.30" y1="119.61" x2="512.90" y2="119.61" stroke="#000" stroke-width="0.9" stroke-opacity="0.76"/>
<line x1="88.30" y1="136.47" x2="512.90" y2="136.47" stroke="#000" stroke-width="0.9" stroke-opacity="0.76"/>
<line x1="88.30" y1="153.34" x2="512.90" y2="153.34" stroke="#000" stroke-width="0.9" stroke-opacity="0.76"/>
<line x1="88.30" y1="170.20" x2="512.90" y2="170.20" stroke="#000" stroke-width="0.9" stroke-opacity="0.76"/>
<line x1="234.40" y1="20.30" x2="234.40" y2="170.20" stroke="#000" stroke-width="1.4"/>
<text x="120.50" y="188.35" font-size="8.6" font-weight="bold" stroke="#000" stroke-width="0.3" text-anchor="end" textLength="46.90" lengthAdjust="spacingAndGlyphs" fill="#000">Morphology:</text>
<rect x="123.70" y="179.95" width="11.80" height="11.80" fill="#DF901B" stroke="#333" stroke-width="1"/>
<text x="139.30" y="188.65" font-size="9.15" stroke="#1a1a1a" stroke-width="0.12" textLength="31.30" lengthAdjust="spacingAndGlyphs">Pattern 1</text>
<rect x="194.50" y="179.95" width="11.80" height="11.80" fill="#EDC88F" stroke="#333" stroke-width="1"/>
<text x="209.90" y="188.65" font-size="9.15" stroke="#1a1a1a" stroke-width="0.12" textLength="31.80" lengthAdjust="spacingAndGlyphs">Pattern 2</text>
<rect x="264.10" y="179.95" width="11.80" height="11.80" fill="#2F4D82" stroke="#333" stroke-width="1"/>
<text x="279.50" y="188.65" font-size="9.15" stroke="#1a1a1a" stroke-width="0.12" textLength="32.00" lengthAdjust="spacingAndGlyphs">Pattern 3</text>
<rect x="327.60" y="179.95" width="11.80" height="11.80" fill="#9198C0" stroke="#333" stroke-width="1"/>
<text x="343.10" y="188.65" font-size="9.15" stroke="#1a1a1a" stroke-width="0.12" textLength="65.50" lengthAdjust="spacingAndGlyphs">Pattern 4 (Lennert)</text>
<text x="120.50" y="205.20" font-size="8.6" font-weight="bold" stroke="#000" stroke-width="0.3" text-anchor="end" textLength="37.00" lengthAdjust="spacingAndGlyphs" fill="#000">CD4/CD8:</text>
<rect x="123.70" y="196.80" width="11.80" height="11.80" fill="#A8002C" stroke="#333" stroke-width="1"/>
<text x="139.30" y="205.50" font-size="9.15" stroke="#1a1a1a" stroke-width="0.12" textLength="26.60" lengthAdjust="spacingAndGlyphs">Positive</text>
<rect x="194.50" y="196.80" width="11.80" height="11.80" fill="#FFFFFF" stroke="#333" stroke-width="1"/>
<text x="209.90" y="205.50" font-size="9.15" stroke="#1a1a1a" stroke-width="0.12" textLength="32.00" lengthAdjust="spacingAndGlyphs">Negative</text>
<text x="120.50" y="222.00" font-size="8.6" font-weight="bold" stroke="#000" stroke-width="0.3" text-anchor="end" textLength="58.00" lengthAdjust="spacingAndGlyphs" fill="#000">TIA/GZB/CD30:</text>
<rect x="123.70" y="213.60" width="11.80" height="11.80" fill="#E5BFB3" stroke="#333" stroke-width="1"/>
<text x="139.30" y="222.30" font-size="9.15" stroke="#1a1a1a" stroke-width="0.12" textLength="8.60" lengthAdjust="spacingAndGlyphs">1+</text>
<rect x="194.50" y="213.60" width="11.80" height="11.80" fill="#C6776B" stroke="#333" stroke-width="1"/>
<text x="209.90" y="222.30" font-size="9.15" stroke="#1a1a1a" stroke-width="0.12" textLength="9.30" lengthAdjust="spacingAndGlyphs">2+</text>
<rect x="264.10" y="213.60" width="11.80" height="11.80" fill="#A8002C" stroke="#333" stroke-width="1"/>
<text x="279.50" y="222.30" font-size="9.15" stroke="#1a1a1a" stroke-width="0.12" textLength="9.20" lengthAdjust="spacingAndGlyphs">3+</text>
<rect x="327.60" y="213.60" width="11.80" height="11.80" fill="#FFFFFF" stroke="#333" stroke-width="1"/>
<text x="343.10" y="222.30" font-size="9.15" stroke="#1a1a1a" stroke-width="0.12" textLength="32.00" lengthAdjust="spacingAndGlyphs">Negative</text>
<rect x="387.50" y="213.60" width="11.80" height="11.80" fill="#DADADA" stroke="#333" stroke-width="1"/>
<text x="403.50" y="222.30" font-size="9.15" stroke="#1a1a1a" stroke-width="0.12" textLength="41.50" lengthAdjust="spacingAndGlyphs">Not Stained</text>
<text x="120.50" y="238.80" font-size="8.6" font-weight="bold" stroke="#000" stroke-width="0.3" text-anchor="end" textLength="22.10" lengthAdjust="spacingAndGlyphs" fill="#000">EBER:</text>
<rect x="123.70" y="230.40" width="11.80" height="11.80" fill="#DCE8CF" stroke="#333" stroke-width="1"/>
<text x="139.30" y="239.10" font-size="9.15" stroke="#1a1a1a" stroke-width="0.12" textLength="8.60" lengthAdjust="spacingAndGlyphs">1+</text>
<rect x="194.50" y="230.40" width="11.80" height="11.80" fill="#ABCB8D" stroke="#333" stroke-width="1"/>
<text x="209.90" y="239.10" font-size="9.15" stroke="#1a1a1a" stroke-width="0.12" textLength="9.30" lengthAdjust="spacingAndGlyphs">2+</text>
<rect x="264.10" y="230.40" width="11.80" height="11.80" fill="#69A541" stroke="#333" stroke-width="1"/>
<text x="279.50" y="239.10" font-size="9.15" stroke="#1a1a1a" stroke-width="0.12" textLength="9.20" lengthAdjust="spacingAndGlyphs">3+</text>
<rect x="327.60" y="230.40" width="11.80" height="11.80" fill="#376950" stroke="#333" stroke-width="1"/>
<text x="343.10" y="239.10" font-size="9.15" stroke="#1a1a1a" stroke-width="0.12" textLength="8.90" lengthAdjust="spacingAndGlyphs">4+</text>
<rect x="387.50" y="230.40" width="11.80" height="11.80" fill="#FFFFFF" stroke="#333" stroke-width="1"/>
<text x="403.50" y="239.10" font-size="9.15" stroke="#1a1a1a" stroke-width="0.12" textLength="31.50" lengthAdjust="spacingAndGlyphs">Negative</text>
<rect x="455.10" y="230.40" width="11.80" height="11.80" fill="#DADADA" stroke="#333" stroke-width="1"/>
<text x="470.80" y="239.10" font-size="9.15" stroke="#1a1a1a" stroke-width="0.12" textLength="41.50" lengthAdjust="spacingAndGlyphs">Not Stained</text>
<text x="120.50" y="255.65" font-size="8.6" font-weight="bold" stroke="#000" stroke-width="0.3" text-anchor="end" textLength="56.60" lengthAdjust="spacingAndGlyphs" fill="#000">Molecular GEP:</text>
<rect x="123.70" y="247.25" width="11.80" height="11.80" fill="#DF901B" stroke="#333" stroke-width="1"/>
<text x="139.30" y="255.95" font-size="9.15" stroke="#1a1a1a" stroke-width="0.12" textLength="45.10" lengthAdjust="spacingAndGlyphs">PTCL-GATA3</text>
<rect x="194.50" y="247.25" width="11.80" height="11.80" fill="#6CAADE" stroke="#333" stroke-width="1"/>
<text x="209.90" y="255.95" font-size="9.15" stroke="#1a1a1a" stroke-width="0.12" textLength="43.10" lengthAdjust="spacingAndGlyphs">PTCL-TBX21</text>
<rect x="264.10" y="247.25" width="11.80" height="11.80" fill="#ADADAD" stroke="#333" stroke-width="1"/>
<text x="279.50" y="255.95" font-size="9.15" stroke="#1a1a1a" stroke-width="0.12" textLength="41.20" lengthAdjust="spacingAndGlyphs">Unclassified</text>
<rect x="327.60" y="247.25" width="11.80" height="11.80" fill="#FFFFFF" stroke="#333" stroke-width="1"/>
<text x="343.10" y="255.95" font-size="9.15" stroke="#1a1a1a" stroke-width="0.12" textLength="34.60" lengthAdjust="spacingAndGlyphs">Not Done</text>
<text x="6.48" y="285.60" font-size="12.4" font-weight="bold" stroke="#000" stroke-width="0.3" textLength="8.88" lengthAdjust="spacingAndGlyphs" fill="#000">B</text>
<text x="67.40" y="297.50" font-size="11.02" stroke="#1a1a1a" stroke-width="0.12" textLength="62.80" lengthAdjust="spacingAndGlyphs">CD4 and CD8</text>
<line x1="34.40" y1="302.80" x2="34.40" y2="386.90" stroke="#000" stroke-width="1.2"/>
<line x1="34.40" y1="386.40" x2="162.70" y2="386.40" stroke="#000" stroke-width="1.2"/>
<line x1="31.10" y1="386.40" x2="34.40" y2="386.40" stroke="#000" stroke-width="1"/>
<text x="27.90" y="389.40" font-size="9.26" stroke="#1a1a1a" stroke-width="0.12" text-anchor="end" textLength="11.45" lengthAdjust="spacingAndGlyphs">0%</text>
<line x1="31.10" y1="366.23" x2="34.40" y2="366.23" stroke="#000" stroke-width="1"/>
<text x="27.90" y="369.23" font-size="9.26" stroke="#1a1a1a" stroke-width="0.12" text-anchor="end" textLength="15.85" lengthAdjust="spacingAndGlyphs">20%</text>
<line x1="31.10" y1="346.06" x2="34.40" y2="346.06" stroke="#000" stroke-width="1"/>
<text x="27.90" y="349.06" font-size="9.26" stroke="#1a1a1a" stroke-width="0.12" text-anchor="end" textLength="15.85" lengthAdjust="spacingAndGlyphs">40%</text>
<line x1="31.10" y1="325.89" x2="34.40" y2="325.89" stroke="#000" stroke-width="1"/>
<text x="27.90" y="328.89" font-size="9.26" stroke="#1a1a1a" stroke-width="0.12" text-anchor="end" textLength="15.85" lengthAdjust="spacingAndGlyphs">60%</text>
<line x1="31.10" y1="305.72" x2="34.40" y2="305.72" stroke="#000" stroke-width="1"/>
<text x="27.90" y="308.72" font-size="9.26" stroke="#1a1a1a" stroke-width="0.12" text-anchor="end" textLength="15.85" lengthAdjust="spacingAndGlyphs">80%</text>
<rect x="40.55" y="311.11" width="10.70" height="75.29" fill="#502364" stroke="#00000055" stroke-width="0.7"/>
<rect x="54.55" y="377.17" width="10.70" height="9.23" fill="#A6002B" stroke="#00000055" stroke-width="0.7"/>
<rect x="68.45" y="377.17" width="10.70" height="9.23" fill="#2E4A84" stroke="#00000055" stroke-width="0.7"/>
<rect x="82.15" y="382.11" width="10.70" height="4.29" fill="#6AAA3C" stroke="#00000055" stroke-width="0.7"/>
<rect x="105.25" y="336.53" width="10.70" height="49.87" fill="#502364" stroke="#00000055" stroke-width="0.7"/>
<rect x="118.75" y="355.28" width="10.70" height="31.12" fill="#A6002B" stroke="#00000055" stroke-width="0.7"/>
<rect x="132.55" y="376.56" width="10.70" height="9.84" fill="#2E4A84" stroke="#00000055" stroke-width="0.7"/>
<rect x="146.35" y="379.29" width="10.70" height="7.11" fill="#6AAA3C" stroke="#00000055" stroke-width="0.7"/>
<text transform="translate(47.30,394.50) rotate(-36.5)" x="0" y="0" font-size="9.6" text-anchor="end" textLength="44.00" lengthAdjust="spacingAndGlyphs" fill="#1a1a1a" stroke="#1a1a1a" stroke-width="0.12">CD4+/CD8-</text>
<text transform="translate(61.40,394.50) rotate(-36.5)" x="0" y="0" font-size="9.6" text-anchor="end" textLength="44.00" lengthAdjust="spacingAndGlyphs" fill="#1a1a1a" stroke="#1a1a1a" stroke-width="0.12">CD8+/CD4-</text>
<text transform="translate(75.10,394.50) rotate(-36.5)" x="0" y="0" font-size="9.6" text-anchor="end" textLength="46.13" lengthAdjust="spacingAndGlyphs" fill="#1a1a1a" stroke="#1a1a1a" stroke-width="0.12">CD4+/CD8+</text>
<text transform="translate(88.40,394.50) rotate(-36.5)" x="0" y="0" font-size="9.6" text-anchor="end" textLength="41.87" lengthAdjust="spacingAndGlyphs" fill="#1a1a1a" stroke="#1a1a1a" stroke-width="0.12">CD4-/CD8-</text>
<text transform="translate(112.00,394.50) rotate(-36.5)" x="0" y="0" font-size="9.6" text-anchor="end" textLength="44.00" lengthAdjust="spacingAndGlyphs" fill="#1a1a1a" stroke="#1a1a1a" stroke-width="0.12">CD4+/CD8-</text>
<text transform="translate(126.90,394.50) rotate(-36.5)" x="0" y="0" font-size="9.6" text-anchor="end" textLength="44.00" lengthAdjust="spacingAndGlyphs" fill="#1a1a1a" stroke="#1a1a1a" stroke-width="0.12">CD8+/CD4-</text>
<text transform="translate(140.90,394.50) rotate(-36.5)" x="0" y="0" font-size="9.6" text-anchor="end" textLength="46.13" lengthAdjust="spacingAndGlyphs" fill="#1a1a1a" stroke="#1a1a1a" stroke-width="0.12">CD4+/CD8+</text>
<text transform="translate(155.30,394.50) rotate(-36.5)" x="0" y="0" font-size="9.6" text-anchor="end" textLength="41.87" lengthAdjust="spacingAndGlyphs" fill="#1a1a1a" stroke="#1a1a1a" stroke-width="0.12">CD4-/CD8-</text>
<text x="42.50" y="441.60" font-size="9.36" stroke="#1a1a1a" stroke-width="0.12" textLength="48.00" lengthAdjust="spacingAndGlyphs">PTCL-GATA3</text>
<text x="107.50" y="441.60" font-size="9.36" stroke="#1a1a1a" stroke-width="0.12" textLength="45.00" lengthAdjust="spacingAndGlyphs">PTCL-TBX21</text>
<text x="178.76" y="285.80" font-size="12.4" font-weight="bold" stroke="#000" stroke-width="0.3" textLength="9.50" lengthAdjust="spacingAndGlyphs" fill="#000">C</text>
<text x="205.30" y="297.30" font-size="11.02" stroke="#1a1a1a" stroke-width="0.12" textLength="81.70" lengthAdjust="spacingAndGlyphs">Cytotoxic Markers</text>
<line x1="201.60" y1="302.80" x2="201.60" y2="386.90" stroke="#000" stroke-width="1.2"/>
<line x1="201.60" y1="386.40" x2="290.30" y2="386.40" stroke="#000" stroke-width="1.2"/>
<line x1="198.30" y1="386.40" x2="201.60" y2="386.40" stroke="#000" stroke-width="1"/>
<text x="195.00" y="389.40" font-size="9.26" stroke="#1a1a1a" stroke-width="0.12" text-anchor="end" textLength="11.45" lengthAdjust="spacingAndGlyphs">0%</text>
<line x1="198.30" y1="366.23" x2="201.60" y2="366.23" stroke="#000" stroke-width="1"/>
<text x="195.00" y="369.23" font-size="9.26" stroke="#1a1a1a" stroke-width="0.12" text-anchor="end" textLength="15.85" lengthAdjust="spacingAndGlyphs">20%</text>
<line x1="198.30" y1="346.06" x2="201.60" y2="346.06" stroke="#000" stroke-width="1"/>
<text x="195.00" y="349.06" font-size="9.26" stroke="#1a1a1a" stroke-width="0.12" text-anchor="end" textLength="15.85" lengthAdjust="spacingAndGlyphs">40%</text>
<line x1="198.30" y1="325.89" x2="201.60" y2="325.89" stroke="#000" stroke-width="1"/>
<text x="195.00" y="328.89" font-size="9.26" stroke="#1a1a1a" stroke-width="0.12" text-anchor="end" textLength="15.85" lengthAdjust="spacingAndGlyphs">60%</text>
<line x1="198.30" y1="305.72" x2="201.60" y2="305.72" stroke="#000" stroke-width="1"/>
<text x="195.00" y="308.72" font-size="9.26" stroke="#1a1a1a" stroke-width="0.12" text-anchor="end" textLength="15.85" lengthAdjust="spacingAndGlyphs">80%</text>
<rect x="209.10" y="376.87" width="13.05" height="9.53" fill="#A6002B" stroke="#00000055" stroke-width="0.7"/>
<rect x="225.60" y="382.11" width="13.05" height="4.29" fill="#2E4A84" stroke="#00000055" stroke-width="0.7"/>
<rect x="253.35" y="333.60" width="13.05" height="52.80" fill="#A6002B" stroke="#00000055" stroke-width="0.7"/>
<rect x="270.35" y="352.56" width="13.05" height="33.84" fill="#2E4A84" stroke="#00000055" stroke-width="0.7"/>
<line x1="232.40" y1="315.00" x2="276.70" y2="315.00" stroke="#4a4a4a" stroke-width="1.3"/>
<line x1="215.80" y1="323.60" x2="260.10" y2="323.60" stroke="#4a4a4a" stroke-width="1.3"/>
<text x="254.7" y="315.0" font-size="8" text-anchor="middle" fill="#111">*</text>
<text x="237.8" y="323.8" font-size="8" text-anchor="middle" fill="#111">*</text>
<text x="224.00" y="396.90" font-size="9.15" stroke="#1a1a1a" stroke-width="0.12" text-anchor="middle" textLength="21.90" lengthAdjust="spacingAndGlyphs">PTCL-</text>
<text x="224.00" y="407.20" font-size="9.15" stroke="#1a1a1a" stroke-width="0.12" text-anchor="middle" textLength="26.10" lengthAdjust="spacingAndGlyphs">GATA3</text>
<text x="268.10" y="396.90" font-size="9.15" stroke="#1a1a1a" stroke-width="0.12" text-anchor="middle" textLength="21.90" lengthAdjust="spacingAndGlyphs">PTCL-</text>
<text x="268.10" y="407.20" font-size="9.15" stroke="#1a1a1a" stroke-width="0.12" text-anchor="middle" textLength="24.60" lengthAdjust="spacingAndGlyphs">TBX21</text>
<rect x="213.20" y="420.90" width="7.80" height="4.00" fill="#A6002B"/>
<text x="224.70" y="425.20" font-size="9.15" stroke="#1a1a1a" stroke-width="0.12" textLength="17.70" lengthAdjust="spacingAndGlyphs">TIA-1</text>
<rect x="253.00" y="420.90" width="7.70" height="4.00" fill="#2E4A84"/>
<text x="264.00" y="425.20" font-size="9.15" stroke="#1a1a1a" stroke-width="0.12" textLength="15.00" lengthAdjust="spacingAndGlyphs">GZB</text>
<text x="305.99" y="285.60" font-size="12.4" font-weight="bold" stroke="#000" stroke-width="0.3" textLength="9.77" lengthAdjust="spacingAndGlyphs" fill="#000">D</text>
<text x="342.90" y="297.30" font-size="11.02" stroke="#1a1a1a" stroke-width="0.12" textLength="25.10" lengthAdjust="spacingAndGlyphs">CD30</text>
<line x1="329.20" y1="302.80" x2="329.20" y2="386.90" stroke="#000" stroke-width="1.2"/>
<line x1="329.20" y1="386.40" x2="382.00" y2="386.40" stroke="#000" stroke-width="1.2"/>
<line x1="325.90" y1="386.40" x2="329.20" y2="386.40" stroke="#000" stroke-width="1"/>
<text x="322.90" y="389.40" font-size="9.26" stroke="#1a1a1a" stroke-width="0.12" text-anchor="end" textLength="11.45" lengthAdjust="spacingAndGlyphs">0%</text>
<line x1="325.90" y1="366.23" x2="329.20" y2="366.23" stroke="#000" stroke-width="1"/>
<text x="322.90" y="369.23" font-size="9.26" stroke="#1a1a1a" stroke-width="0.12" text-anchor="end" textLength="15.85" lengthAdjust="spacingAndGlyphs">20%</text>
<line x1="325.90" y1="346.06" x2="329.20" y2="346.06" stroke="#000" stroke-width="1"/>
<text x="322.90" y="349.06" font-size="9.26" stroke="#1a1a1a" stroke-width="0.12" text-anchor="end" textLength="15.85" lengthAdjust="spacingAndGlyphs">40%</text>
<line x1="325.90" y1="325.89" x2="329.20" y2="325.89" stroke="#000" stroke-width="1"/>
<text x="322.90" y="328.89" font-size="9.26" stroke="#1a1a1a" stroke-width="0.12" text-anchor="end" textLength="15.85" lengthAdjust="spacingAndGlyphs">60%</text>
<line x1="325.90" y1="305.72" x2="329.20" y2="305.72" stroke="#000" stroke-width="1"/>
<text x="322.90" y="308.72" font-size="9.26" stroke="#1a1a1a" stroke-width="0.12" text-anchor="end" textLength="15.85" lengthAdjust="spacingAndGlyphs">80%</text>
<rect x="336.15" y="377.17" width="12.50" height="9.23" fill="#A6002B" stroke="#00000055" stroke-width="0.7"/>
<rect x="362.75" y="379.09" width="12.50" height="7.31" fill="#A6002B" stroke="#00000055" stroke-width="0.7"/>
<text x="343.50" y="396.80" font-size="9.15" stroke="#1a1a1a" stroke-width="0.12" text-anchor="middle" textLength="21.60" lengthAdjust="spacingAndGlyphs">PTCL-</text>
<text x="343.50" y="406.80" font-size="9.15" stroke="#1a1a1a" stroke-width="0.12" text-anchor="middle" textLength="25.50" lengthAdjust="spacingAndGlyphs">GATA3</text>
<text x="372.70" y="396.80" font-size="9.15" stroke="#1a1a1a" stroke-width="0.12" text-anchor="middle" textLength="21.60" lengthAdjust="spacingAndGlyphs">PTCL-</text>
<text x="372.70" y="406.80" font-size="9.15" stroke="#1a1a1a" stroke-width="0.12" text-anchor="middle" textLength="22.90" lengthAdjust="spacingAndGlyphs">TBX21</text>
<text x="400.42" y="285.50" font-size="12.4" font-weight="bold" stroke="#000" stroke-width="0.3" textLength="8.32" lengthAdjust="spacingAndGlyphs" fill="#000">E</text>
<text x="435.00" y="297.00" font-size="11.02" stroke="#1a1a1a" stroke-width="0.12" textLength="66.70" lengthAdjust="spacingAndGlyphs">EBER Positivity</text>
<line x1="423.70" y1="302.80" x2="423.70" y2="386.90" stroke="#000" stroke-width="1.2"/>
<line x1="423.70" y1="386.40" x2="512.50" y2="386.40" stroke="#000" stroke-width="1.2"/>
<line x1="420.40" y1="386.40" x2="423.70" y2="386.40" stroke="#000" stroke-width="1"/>
<text x="416.90" y="389.40" font-size="9.26" stroke="#1a1a1a" stroke-width="0.12" text-anchor="end" textLength="11.45" lengthAdjust="spacingAndGlyphs">0%</text>
<line x1="420.40" y1="366.23" x2="423.70" y2="366.23" stroke="#000" stroke-width="1"/>
<text x="416.90" y="369.23" font-size="9.26" stroke="#1a1a1a" stroke-width="0.12" text-anchor="end" textLength="15.85" lengthAdjust="spacingAndGlyphs">20%</text>
<line x1="420.40" y1="346.06" x2="423.70" y2="346.06" stroke="#000" stroke-width="1"/>
<text x="416.90" y="349.06" font-size="9.26" stroke="#1a1a1a" stroke-width="0.12" text-anchor="end" textLength="15.85" lengthAdjust="spacingAndGlyphs">40%</text>
<line x1="420.40" y1="325.89" x2="423.70" y2="325.89" stroke="#000" stroke-width="1"/>
<text x="416.90" y="328.89" font-size="9.26" stroke="#1a1a1a" stroke-width="0.12" text-anchor="end" textLength="15.85" lengthAdjust="spacingAndGlyphs">60%</text>
<line x1="420.40" y1="305.72" x2="423.70" y2="305.72" stroke="#000" stroke-width="1"/>
<text x="416.90" y="308.72" font-size="9.26" stroke="#1a1a1a" stroke-width="0.12" text-anchor="end" textLength="15.85" lengthAdjust="spacingAndGlyphs">80%</text>
<rect x="431.10" y="364.87" width="13.05" height="21.53" fill="#A6002B" stroke="#00000055" stroke-width="0.7"/>
<rect x="447.85" y="369.81" width="13.05" height="16.59" fill="#2E4A84" stroke="#00000055" stroke-width="0.7"/>
<rect x="475.35" y="362.55" width="13.05" height="23.85" fill="#A6002B" stroke="#00000055" stroke-width="0.7"/>
<rect x="492.35" y="368.90" width="13.05" height="17.50" fill="#2E4A84" stroke="#00000055" stroke-width="0.7"/>
<text x="447.10" y="396.40" font-size="9.15" stroke="#1a1a1a" stroke-width="0.12" text-anchor="middle" textLength="20.80" lengthAdjust="spacingAndGlyphs">PTCL-</text>
<text x="447.10" y="406.50" font-size="9.15" stroke="#1a1a1a" stroke-width="0.12" text-anchor="middle" textLength="24.20" lengthAdjust="spacingAndGlyphs">GATA3</text>
<text x="491.20" y="396.40" font-size="9.15" stroke="#1a1a1a" stroke-width="0.12" text-anchor="middle" textLength="20.80" lengthAdjust="spacingAndGlyphs">PTCL-</text>
<text x="491.20" y="406.50" font-size="9.15" stroke="#1a1a1a" stroke-width="0.12" text-anchor="middle" textLength="21.50" lengthAdjust="spacingAndGlyphs">TBX21</text>
<rect x="427.70" y="420.00" width="7.70" height="4.00" fill="#A6002B"/>
<text x="438.80" y="425.00" font-size="9.15" stroke="#1a1a1a" stroke-width="0.12" textLength="15.80" lengthAdjust="spacingAndGlyphs">1-4+</text>
<rect x="464.60" y="420.00" width="7.70" height="4.00" fill="#2E4A84"/>
<text x="475.80" y="425.00" font-size="9.15" stroke="#1a1a1a" stroke-width="0.12" textLength="34.20" lengthAdjust="spacingAndGlyphs">Only 3-4+</text>
<rect x="0.50" y="0.50" width="519.00" height="449.00" fill="none" stroke="#000" stroke-width="1"/>
</svg>
</body></html>
